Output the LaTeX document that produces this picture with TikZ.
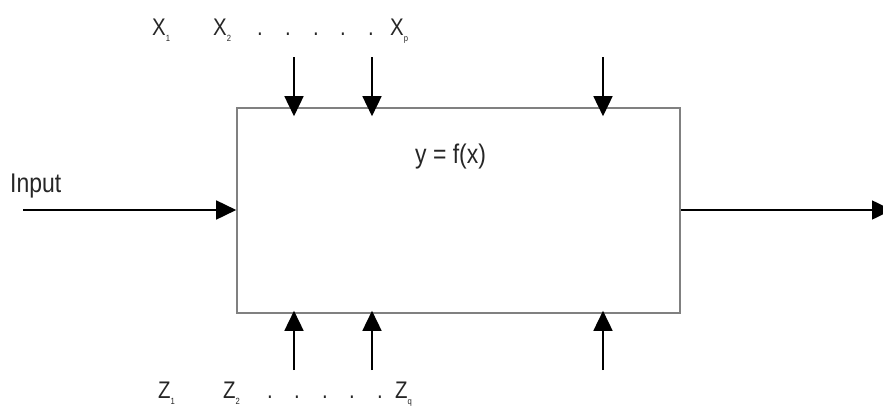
\documentclass[tikz,border=0pt]{standalone}
\usepackage{fontspec}
\setmainfont[FakeStretch=0.85]{Liberation Sans}
\usetikzlibrary{arrows.meta}

\newcommand{\idx}[1]{\raisebox{-6pt}{\fontsize{9}{9}\selectfont #1}}

\begin{document}
\begin{tikzpicture}[x=1pt, y=-1pt,
  sys/.style={draw=gray, line width=1.6pt, minimum width=443pt, minimum height=205pt, inner sep=0pt},
  arrow/.style={-{Triangle[length=20pt, width=19pt]}, line width=1.6pt},
  lbl/.style={inner sep=0pt, anchor=base west, text=black!85, font=\fontsize{27}{30}\selectfont},
  var/.style={lbl, font=\fontsize{24}{26}\selectfont}
]
\useasboundingbox (0,0) rectangle (883,407);
\node[sys] (sys) at (458.5,210.5) {};
\node[lbl] (fx) at (415,163) {y = f(x)};
\node[lbl] (in) at (10,192) {Input};
% controllable factors on top
\node[var] (x1) at (152,35) {X\idx{1}};
\node[var] (x2) at (213,35) {X\idx{2}};
\node[var] (xp) at (390,35) {X\idx{p}};
\foreach \d [count=\i] in {257,285,313,340,368}
  \node[var] (xd\i) at (\d,35) {.};
% noise factors below
\node[var] (z1) at (158,398) {Z\idx{1}};
\node[var] (z2) at (223,398) {Z\idx{2}};
\node[var] (zq) at (395,398) {Z\idx{q}};
\foreach \d [count=\i] in {267,294,322,349,377}
  \node[var] (zd\i) at (\d,398) {.};

\coordinate (a) at (23,210);
\coordinate (b) at (892,210);
\coordinate (t1) at (294,57);
\coordinate (t2) at (372,57);
\coordinate (t3) at (603,57);
\coordinate (u1) at (294,370);
\coordinate (u2) at (372,370);
\coordinate (u3) at (603,370);

\draw[arrow] (a) -- (a -| sys.west);
\draw[arrow] (b -| sys.east) -- (b);
\foreach \p in {t1,t2,t3} \draw[arrow] (\p) -- ([yshift=-9pt]\p |- sys.north);
\foreach \p in {u1,u2,u3} \draw[arrow] (\p) -- ([yshift=3pt]\p |- sys.south);
\end{tikzpicture}
\end{document}
